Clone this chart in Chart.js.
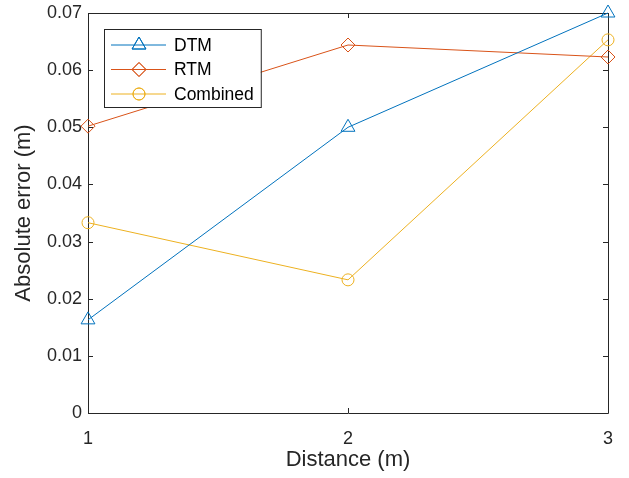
<!DOCTYPE html>
<html>
<head>
<meta charset="utf-8">
<script src="https://cdn.jsdelivr.net/npm/chart.js@4"></script>
<style>
    html, body { margin: 0; padding: 0; background: #ffffff; }
    #wrap { width: 629px; height: 478px; }
</style>
</head>
<body>
<div id="wrap"><canvas id="errorChart" width="629" height="478"></canvas></div>
<script>
// Absolute error vs distance, three methods
const distances = [1, 2, 3];
const dtmError = [0.0163, 0.0500, 0.0700];
const rtmError = [0.0502, 0.0644, 0.0623];
const combinedError = [0.0333, 0.0233, 0.0653];
const seriesNames = ['DTM', 'RTM', 'Combined'];
const yTicks = [0, 0.01, 0.02, 0.03, 0.04, 0.05, 0.06, 0.07];

const FONT = 'Liberation Sans, Arial, Helvetica, sans-serif';
const AXIS_COLOR = '#262626';

function toPoints(ys) {
    return distances.map((x, i) => ({ x: x, y: ys[i] }));
}

// MATLAB style box with inward ticks on all four sides
const boxPlugin = {
    id: 'matlabBox',
    beforeDatasetsDraw(chart) {
        const { ctx, chartArea: a, scales } = chart;
        ctx.save();
        ctx.strokeStyle = AXIS_COLOR;
        ctx.lineWidth = 1;
        ctx.beginPath();
        ctx.rect(a.left + 0.5, a.top + 0.5, a.right - a.left, a.bottom - a.top);
        ctx.stroke();
        const len = 5;
        ctx.beginPath();
        scales.x.ticks.forEach(t => {
            const px = Math.round(scales.x.getPixelForValue(t.value)) + 0.5;
            ctx.moveTo(px, a.bottom); ctx.lineTo(px, a.bottom - len);
            ctx.moveTo(px, a.top); ctx.lineTo(px, a.top + len);
        });
        scales.y.ticks.forEach(t => {
            const py = Math.round(scales.y.getPixelForValue(t.value)) + 0.5;
            ctx.moveTo(a.left, py); ctx.lineTo(a.left + len, py);
            ctx.moveTo(a.right, py); ctx.lineTo(a.right - len, py);
        });
        ctx.stroke();
        ctx.restore();
    }
};

// legend box drawn inside the plot, line + marker per entry
const insideLegend = {
    id: 'insideLegend',
    afterDatasetsDraw(chart) {
        const { ctx, chartArea: a } = chart;
        const sets = chart.data.datasets;
        ctx.save();
        ctx.font = '17.5px ' + FONT;
        const maxText = Math.max(...sets.map(d => ctx.measureText(d.label).width));
        const x0 = a.left + 16, y0 = a.top + 16;
        const rowH = 24.5;
        const w = 70 + maxText + 7, h = rowH * sets.length + 4.5;
        ctx.fillStyle = '#ffffff';
        ctx.fillRect(x0, y0, w, h);
        ctx.strokeStyle = AXIS_COLOR;
        ctx.lineWidth = 1;
        ctx.strokeRect(x0 + 0.5, y0 + 0.5, w, h);
        sets.forEach((d, i) => {
            const cy = y0 + 16 + i * rowH;
            ctx.strokeStyle = d.borderColor;
            ctx.lineWidth = 1;
            ctx.beginPath();
            ctx.moveTo(x0 + 7, cy); ctx.lineTo(x0 + 62, cy);
            ctx.stroke();
            ctx.fillStyle = 'rgba(0,0,0,0)';
            Chart.helpers.drawPoint(ctx, {
                pointStyle: d.pointStyle, radius: d.pointRadius, rotation: 0, borderWidth: 1
            }, x0 + 35, cy);
            ctx.stroke();
            ctx.fillStyle = '#000000';
            ctx.textBaseline = 'middle';
            ctx.fillText(d.label, x0 + 70, cy + 1);
        });
        ctx.restore();
    }
};

function makeSet(label, ys, color, style, radius) {
    return {
        label: label,
        data: toPoints(ys),
        borderColor: color,
        backgroundColor: color,
        borderWidth: 1,
        pointStyle: style,
        pointRadius: radius,
        pointHoverRadius: radius,
        pointBorderColor: color,
        pointBackgroundColor: 'rgba(0,0,0,0)',
        pointBorderWidth: 1,
        tension: 0,
        clip: false
    };
}

new Chart(document.getElementById('errorChart').getContext('2d'), {
    type: 'line',
    data: {
        datasets: [
            makeSet(seriesNames[0], dtmError, '#0072BD', 'triangle', 8),
            makeSet(seriesNames[1], rtmError, '#D95319', 'rectRot', 7),
            makeSet(seriesNames[2], combinedError, '#EDB120', 'circle', 6)
        ]
    },
    options: {
        responsive: false,
        animation: false,
        devicePixelRatio: 1,
        layout: { padding: { left: 0, right: 21, top: 13, bottom: 0 } },
        plugins: {
            legend: { display: false },
            tooltip: { enabled: false }
        },
        scales: {
            x: {
                type: 'linear',
                min: 1, max: 3,
                afterBuildTicks: s => { s.ticks = distances.map(v => ({ value: v })); },
                afterFit: s => { s.height = 65; s.paddingLeft = 0; s.paddingRight = 0; },
                grid: { display: false, drawTicks: false },
                border: { display: false },
                ticks: {
                    color: AXIS_COLOR,
                    padding: 15,
                    font: { family: FONT, size: 18 },
                    callback: v => String(v)
                },
                title: {
                    display: true,
                    text: 'Distance (m)',
                    color: AXIS_COLOR,
                    padding: { top: 0, bottom: 5 },
                    font: { family: FONT, size: 22 }
                }
            },
            y: {
                min: 0, max: 0.07,
                afterBuildTicks: s => { s.ticks = yTicks.map(v => ({ value: v })); },
                afterFit: s => { s.width = 88; s.paddingTop = 0; s.paddingBottom = 0; },
                grid: { display: false, drawTicks: false },
                border: { display: false },
                ticks: {
                    color: AXIS_COLOR,
                    padding: 6,
                    font: { family: FONT, size: 18 },
                    callback: v => v === 0 ? '0' : Number(v).toFixed(2)
                },
                title: {
                    display: true,
                    text: 'Absolute error (m)',
                    color: AXIS_COLOR,
                    padding: { top: 11, bottom: 0 },
                    font: { family: FONT, size: 22 }
                }
            }
        }
    },
    plugins: [boxPlugin, insideLegend]
});
</script>
</body>
</html>
